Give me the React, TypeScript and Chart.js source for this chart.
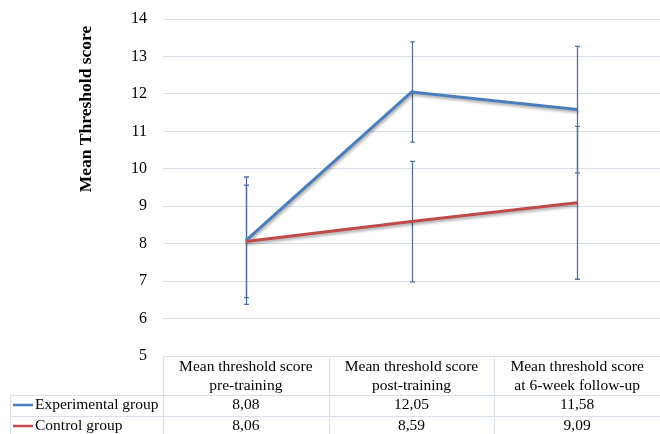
import React, { useEffect, useRef } from "react";
import { Chart, registerables } from "chart.js";

Chart.register(...registerables);

const categories = [
  ["Mean threshold score", "pre-training"],
  ["Mean threshold score", "post-training"],
  ["Mean threshold score", "at 6-week follow-up"],
];
const seriesNames = ["Experimental group", "Control group"];
const experimental = [8.08, 12.05, 11.58];
const control = [8.06, 8.59, 9.09];
const experimentalErr = [1.7, 1.34, 1.69];
const controlErr = [1.5, 1.61, 2.04];
const yMin = 5;
const yMax = 14;
const yStep = 1;
const yTitle = "Mean Threshold score";

const BLUE = "#4A7EBB";
const RED = "#BE4B48";
const ERR = "#52709E";
const GRID = "#D9E0EA";
const FONT = "'Liberation Serif', 'Times New Roman', serif";

const fmt = (v: number) => v.toFixed(2).replace(".", ",");

const errorBarPlugin = {
  id: "errorBars",
  beforeDatasetsDraw(chart: any) {
    const { ctx, scales } = chart;
    const x = scales.x;
    const y = scales.y;
    const sets = [
      { vals: experimental, errs: experimentalErr },
      { vals: control, errs: controlErr },
    ];
    ctx.save();
    ctx.strokeStyle = ERR;
    ctx.lineWidth = 1.3;
    sets.forEach((s) => {
      s.vals.forEach((v, i) => {
        const px = Math.round(x.getPixelForValue(i)) + 0.5;
        const yt = y.getPixelForValue(v + s.errs[i]);
        const yb = y.getPixelForValue(v - s.errs[i]);
        ctx.beginPath();
        ctx.moveTo(px, yt);
        ctx.lineTo(px, yb);
        ctx.moveTo(px - 2.5, yt);
        ctx.lineTo(px + 2.5, yt);
        ctx.moveTo(px - 2.5, yb);
        ctx.lineTo(px + 2.5, yb);
        ctx.stroke();
      });
    });
    ctx.restore();
  },
  beforeDatasetDraw(chart: any) {
    const ctx = chart.ctx;
    ctx.save();
    ctx.shadowColor = "rgba(0,0,0,0.35)";
    ctx.shadowBlur = 3;
    ctx.shadowOffsetX = 1;
    ctx.shadowOffsetY = 2;
  },
  afterDatasetDraw(chart: any) {
    chart.ctx.restore();
  },
};

const tablePlugin = {
  id: "dataTable",
  afterDraw(chart: any) {
    const { ctx, chartArea, scales, width, height } = chart;
    const x = scales.x;
    const step = x.getPixelForValue(1) - x.getPixelForValue(0);
    const top = chartArea.bottom;
    const headerH = 38.5;
    const rowH = 21;
    const legendLeft = 10;
    const r = (v: number) => Math.round(v) + 0.5;

    ctx.save();
    ctx.strokeStyle = GRID;
    ctx.lineWidth = 1;
    ctx.beginPath();
    for (let i = 0; i <= categories.length; i++) {
      const xx = r(x.getPixelForValue(i) - step / 2);
      ctx.moveTo(xx, top);
      ctx.lineTo(xx, height);
    }
    ctx.moveTo(r(legendLeft), top + headerH);
    ctx.lineTo(r(legendLeft), height);
    ctx.moveTo(legendLeft, r(top + headerH));
    ctx.lineTo(width, r(top + headerH));
    ctx.moveTo(legendLeft, r(top + headerH + rowH));
    ctx.lineTo(width, r(top + headerH + rowH));
    ctx.stroke();

    ctx.fillStyle = "#000";
    ctx.font = `15.5px ${FONT}`;
    ctx.textAlign = "center";
    ctx.textBaseline = "middle";
    categories.forEach((lines, i) => {
      const cx = x.getPixelForValue(i);
      lines.forEach((ln, j) => {
        ctx.fillText(ln, cx, top + 10.5 + j * 19);
      });
    });

    const rows = [
      { name: seriesNames[0], vals: experimental, color: BLUE },
      { name: seriesNames[1], vals: control, color: RED },
    ];
    rows.forEach((row, k) => {
      const cy = top + headerH + rowH * k + rowH / 2;
      ctx.textAlign = "center";
      row.vals.forEach((v, i) => {
        ctx.fillText(fmt(v), x.getPixelForValue(i), cy);
      });
      ctx.strokeStyle = row.color;
      ctx.lineWidth = 2.5;
      ctx.beginPath();
      ctx.moveTo(13, cy);
      ctx.lineTo(33, cy);
      ctx.stroke();
      ctx.textAlign = "left";
      ctx.fillText(row.name, 35, cy);
    });

    ctx.save();
    ctx.translate(86, 109);
    ctx.rotate(-Math.PI / 2);
    ctx.font = `bold 17.5px ${FONT}`;
    ctx.textAlign = "center";
    ctx.textBaseline = "middle";
    ctx.fillText(yTitle, 0, 0);
    ctx.restore();

    ctx.restore();
  },
};

export default function App() {
  const ref = useRef<HTMLCanvasElement | null>(null);
  useEffect(() => {
    document.body.style.margin = "0";
    const canvas = ref.current;
    if (!canvas) return;
    const chart = new Chart(canvas, {
      type: "line",
      data: {
        labels: categories.map((c) => c.join(" ")),
        datasets: [
          {
            label: seriesNames[0],
            data: experimental,
            borderColor: BLUE,
            backgroundColor: BLUE,
            borderWidth: 3,
            pointRadius: 0,
            tension: 0,
            order: 1,
          },
          {
            label: seriesNames[1],
            data: control,
            borderColor: RED,
            backgroundColor: RED,
            borderWidth: 3,
            pointRadius: 0,
            tension: 0,
            order: 0,
          },
        ],
      },
      options: {
        responsive: false,
        animation: false,
        devicePixelRatio: 1,
        layout: { padding: { top: 19, bottom: 78, left: 0, right: -7 } },
        plugins: {
          legend: { display: false },
          tooltip: { enabled: false },
          title: { display: false },
        },
        scales: {
          x: {
            type: "category",
            offset: true,
            display: false,
          },
          y: {
            min: yMin,
            max: yMax,
            ticks: {
              stepSize: yStep,
              color: "#000",
              padding: 16,
              font: { family: FONT, size: 16 },
            },
            grid: { color: GRID, lineWidth: 1, drawTicks: false },
            border: { display: false },
            afterFit: (scale: any) => {
              scale.width = 163;
              scale.paddingTop = 0;
              scale.paddingBottom = 0;
            },
          },
        },
      },
      plugins: [errorBarPlugin, tablePlugin],
    });
    return () => chart.destroy();
  }, []);
  return (
    <div style={{ width: 660, height: 434 }}>
      <canvas ref={ref} width={660} height={434} />
    </div>
  );
}
